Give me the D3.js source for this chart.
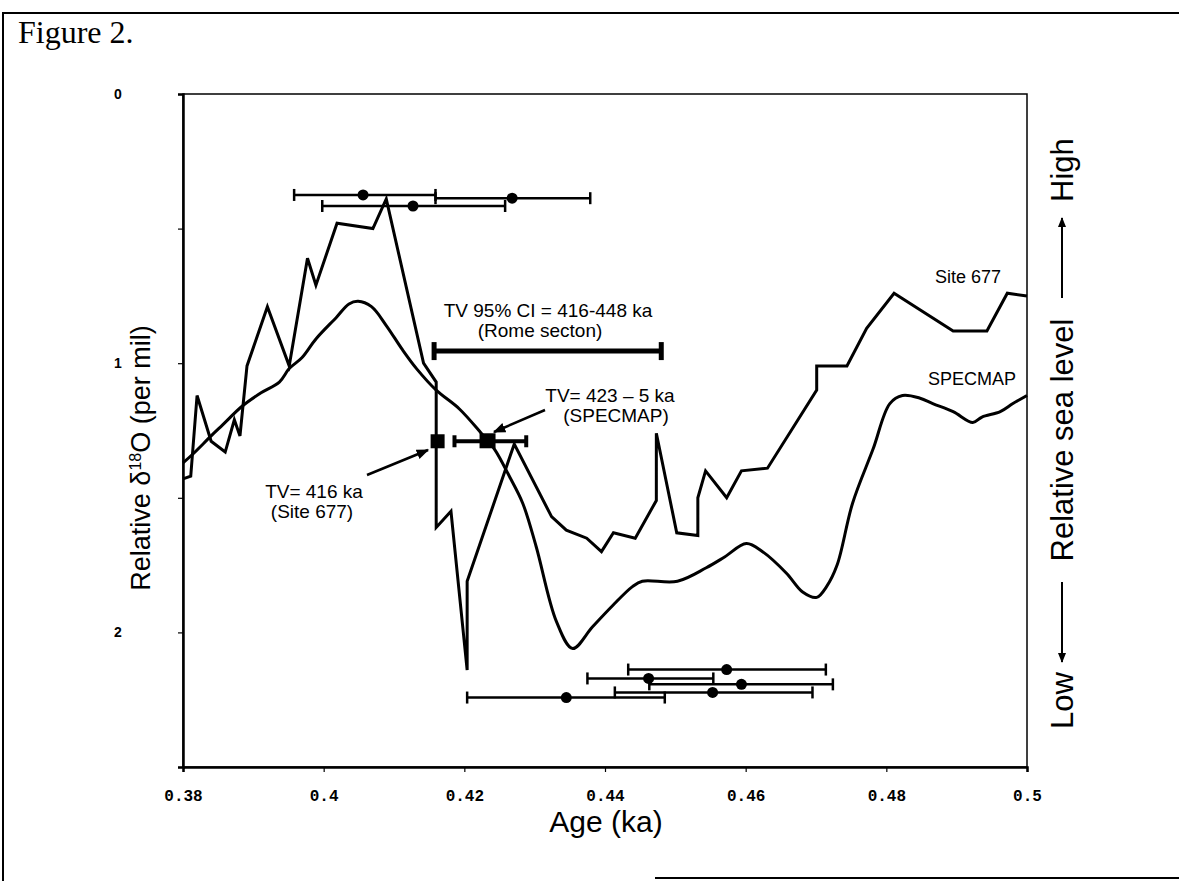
<!DOCTYPE html>
<html><head><meta charset="utf-8">
<script src="https://cdn.jsdelivr.net/npm/d3@7"></script>
<style>body{margin:0;background:#fff} svg{display:block}</style>
</head><body>
<svg id="chart" width="1179" height="881"></svg>
<script>
// ---------- data ----------
const xTicks = [0.38, 0.40, 0.42, 0.44, 0.46, 0.48, 0.50];
const xTickLabels = ["0.38", "0.4", "0.42", "0.44", "0.46", "0.48", "0.5"];
const yTicks = [0, 0.5, 1, 1.5, 2, 2.5];
const yTickLabels = ["0", "", "1", "", "2", ""];

const site677Age = [0.3800,0.3811,0.3820,0.3840,0.3860,0.3873,0.3881,0.3891,0.3920,0.3951,0.3977,0.3989,0.4019,0.4070,0.4089,0.4142,0.4160,0.4160,0.4181,0.4204,0.4204,0.4271,0.4324,0.4345,0.4374,0.4395,0.4412,0.4443,0.4473,0.4473,0.4502,0.4532,0.4532,0.4543,0.4573,0.4594,0.4631,0.4701,0.4701,0.4744,0.4772,0.4811,0.4895,0.4943,0.4972,0.5000];
const site677Val = [1.43,1.42,1.12,1.29,1.33,1.21,1.27,1.01,0.79,1.01,0.61,0.71,0.48,0.50,0.39,1.00,1.07,1.61,1.55,2.14,1.81,1.30,1.57,1.62,1.65,1.70,1.63,1.65,1.51,1.26,1.63,1.64,1.50,1.40,1.50,1.40,1.39,1.10,1.01,1.01,0.87,0.74,0.88,0.88,0.74,0.75];

const specmapAge = [0.3800,0.3813,0.3840,0.3856,0.3884,0.3911,0.3937,0.3951,0.3969,0.3989,0.4018,0.4036,0.4049,0.4068,0.4089,0.4112,0.4132,0.4160,0.4193,0.4224,0.4243,0.4264,0.4283,0.4302,0.4331,0.4354,0.4382,0.4411,0.4439,0.4453,0.4503,0.4544,0.4570,0.4601,0.4624,0.4658,0.4681,0.4701,0.4715,0.4730,0.4752,0.4781,0.4805,0.4823,0.4848,0.4866,0.4895,0.4923,0.4936,0.4962,0.4980,0.5000];
const specmapVal = [1.37,1.34,1.27,1.23,1.16,1.11,1.07,1.02,0.98,0.91,0.83,0.78,0.77,0.79,0.86,0.95,1.02,1.10,1.17,1.26,1.32,1.42,1.52,1.68,1.96,2.06,1.98,1.90,1.83,1.81,1.81,1.76,1.72,1.67,1.70,1.78,1.85,1.87,1.83,1.75,1.52,1.32,1.15,1.12,1.13,1.15,1.18,1.22,1.20,1.18,1.15,1.12];

// dated samples (age, lower, upper, plotted level)
const topAge = [0.4056, 0.4127, 0.4268];
const topLo  = [0.3958, 0.3998, 0.4159];
const topHi  = [0.4159, 0.4258, 0.4379];
const topVal = [0.375, 0.416, 0.387];

const botAge = [0.4573, 0.4462, 0.4594, 0.4553, 0.4345];
const botLo  = [0.4433, 0.4375, 0.4463, 0.4414, 0.4204];
const botHi  = [0.4714, 0.4554, 0.4724, 0.4695, 0.4485];
const botVal = [2.138, 2.171, 2.193, 2.223, 2.242];

// termination values
const tvSiteAge = 0.4162, tvSiteVal = 1.29;
const tvSpecAge = 0.4233, tvSpecLo = 0.4186, tvSpecHi = 0.4288, tvSpecVal = 1.29;
const ciLo = 0.4157, ciHi = 0.4480, ciVal = 0.955;

// ---------- layout ----------
const svg = d3.select("#chart");
const L = 183, R = 1027, T = 94, B = 767;
const x = d3.scaleLinear().domain([0.38, 0.50]).range([L, R]);
const y = d3.scaleLinear().domain([0, 2.5]).range([T, B]);
const sans = "'Liberation Sans', Arial, Helvetica, sans-serif";

// outer frame of the figure
svg.append("line").attr("x1",2).attr("y1",13).attr("x2",1179).attr("y2",13).attr("stroke","#000").attr("stroke-width",2);
svg.append("line").attr("x1",3).attr("y1",12).attr("x2",3).attr("y2",881).attr("stroke","#000").attr("stroke-width",2);
svg.append("line").attr("x1",655).attr("y1",878).attr("x2",1179).attr("y2",878).attr("stroke","#000").attr("stroke-width",2);

svg.append("text").attr("x",18).attr("y",43).text("Figure 2.")
  .attr("font-family","'Liberation Serif','Times New Roman',serif").attr("font-size",32).attr("fill","#000");

const defs = svg.append("defs");
defs.append("marker").attr("id","ah").attr("viewBox","0 0 10 10").attr("refX",9).attr("refY",5)
  .attr("markerWidth",5).attr("markerHeight",5).attr("orient","auto-start-reverse")
  .append("path").attr("d","M0,1 L10,5 L0,9 z").attr("fill","#000");

// plot box
svg.append("rect").attr("x",L).attr("y",T).attr("width",R-L).attr("height",B-T)
  .attr("fill","none").attr("stroke","#000").attr("stroke-width",1.5);

// axes
const xAxis = d3.axisBottom(x).tickValues(xTicks).tickFormat((d,i)=>xTickLabels[i]).tickSizeOuter(0).tickSize(5).tickPadding(18);
const gx = svg.append("g").attr("transform",`translate(0,${B})`).call(xAxis);
gx.select(".domain").attr("stroke-width",2.5);
gx.selectAll(".tick line").attr("stroke-width",1.2);
gx.selectAll("text").attr("font-family","'Liberation Mono','DejaVu Sans Mono',monospace").attr("font-weight","bold").attr("font-size",16);

const yAxis = d3.axisLeft(y).tickValues(yTicks).tickFormat((d,i)=>yTickLabels[i]).tickSizeOuter(0).tickSize(5).tickPadding(58);
const gy = svg.append("g").attr("transform",`translate(${L},0)`).call(yAxis);
gy.select(".domain").attr("stroke-width",2.5);
gy.selectAll(".tick line").attr("stroke-width",1.2);
gy.selectAll("text").attr("font-family",sans).attr("font-weight","bold").attr("font-size",14).attr("text-anchor","middle").attr("dx","-2");

// axis titles
svg.append("text").attr("x",606).attr("y",832).attr("text-anchor","middle")
  .attr("font-family",sans).attr("font-size",30).text("Age (ka)");

const yl = svg.append("text").attr("transform",`translate(150,458) rotate(-90)`).attr("text-anchor","middle")
  .attr("font-family",sans).attr("font-size",27);
yl.append("tspan").text("Relative  \u03B4");
yl.append("tspan").attr("font-size",16).attr("dy",-9).text("18");
yl.append("tspan").attr("dy",9).text("O (per mil)");

// right side label
const rg = svg.append("g").attr("transform",`translate(1062,440) rotate(-90)`);
rg.append("text").attr("text-anchor","middle").attr("y",0).attr("dy","0.35em")
  .attr("font-family",sans).attr("font-size",31).text("Relative sea level");
rg.append("line").attr("x1",142).attr("x2",222).attr("y1",0).attr("y2",0)
  .attr("stroke","#000").attr("stroke-width",2).attr("marker-end","url(#ah)");
rg.append("line").attr("x1",-142).attr("x2",-222).attr("y1",0).attr("y2",0)
  .attr("stroke","#000").attr("stroke-width",2).attr("marker-end","url(#ah)");
rg.append("text").attr("x",238).attr("dy","0.35em").attr("text-anchor","start")
  .attr("font-family",sans).attr("font-size",31).text("High");
rg.append("text").attr("x",-232).attr("dy","0.35em").attr("text-anchor","end")
  .attr("font-family",sans).attr("font-size",31).text("Low");

// ---------- series ----------
const site677 = site677Age.map((a,i)=>[a, site677Val[i]]);
const specmap = specmapAge.map((a,i)=>[a, specmapVal[i]]);
svg.append("path").datum(site677)
  .attr("d", d3.line().x(d=>x(d[0])).y(d=>y(d[1])))
  .attr("fill","none").attr("stroke","#000").attr("stroke-width",3).attr("stroke-linejoin","miter");
svg.append("path").datum(specmap)
  .attr("d", d3.line().curve(d3.curveCatmullRom).x(d=>x(d[0])).y(d=>y(d[1])))
  .attr("fill","none").attr("stroke","#000").attr("stroke-width",3);

// error bars helper
function errBar(lo, hi, v, cap, w){
  const g = svg.append("g").attr("stroke","#000").attr("stroke-width",w);
  g.append("line").attr("x1",x(lo)).attr("x2",x(hi)).attr("y1",y(v)).attr("y2",y(v));
  g.append("line").attr("x1",x(lo)).attr("x2",x(lo)).attr("y1",y(v)-cap).attr("y2",y(v)+cap);
  g.append("line").attr("x1",x(hi)).attr("x2",x(hi)).attr("y1",y(v)-cap).attr("y2",y(v)+cap);
}
topAge.forEach((a,i)=>{ errBar(topLo[i], topHi[i], topVal[i], 6, 2.5); });
botAge.forEach((a,i)=>{ errBar(botLo[i], botHi[i], botVal[i], 6, 2.5); });
svg.selectAll("circle.top").data(topAge).join("circle").attr("class","top")
  .attr("cx",d=>x(d)).attr("cy",(d,i)=>y(topVal[i])).attr("r",5.5).attr("fill","#000");
svg.selectAll("circle.bot").data(botAge).join("circle").attr("class","bot")
  .attr("cx",d=>x(d)).attr("cy",(d,i)=>y(botVal[i])).attr("r",5.5).attr("fill","#000");

// CI bar
errBar(ciLo, ciHi, ciVal, 9, 5);
// SPECMAP TV bar
errBar(tvSpecLo, tvSpecHi, tvSpecVal, 6, 4);
svg.append("rect").attr("x",x(tvSpecAge)-8).attr("y",y(tvSpecVal)-8).attr("width",16).attr("height",15).attr("fill","#000");
svg.append("rect").attr("x",x(tvSiteAge)-7).attr("y",y(tvSiteVal)-7).attr("width",14).attr("height",14).attr("fill","#000");

// ---------- annotations ----------
function label(px, py, lines, size){
  const t = svg.append("text").attr("font-family",sans).attr("font-size",size).attr("text-anchor","middle");
  lines.forEach((s,i)=> t.append("tspan").attr("x",px[i]).attr("y",py + i*size*1.05).text(s));
}
label([548,540], 317, ["TV 95% CI = 416-448 ka", "(Rome secton)"], 19);
label([610,616], 402, ["TV= 423 \u2013 5 ka", "(SPECMAP)"], 19);
label([314,312], 498, ["TV= 416 ka", "(Site 677)"], 19);
svg.append("text").attr("x",968).attr("y",283).attr("text-anchor","middle").attr("font-family",sans).attr("font-size",18).text("Site 677");
svg.append("text").attr("x",972).attr("y",385).attr("text-anchor","middle").attr("font-family",sans).attr("font-size",18).text("SPECMAP");

svg.append("line").attr("x1",545).attr("y1",410).attr("x2",494).attr("y2",432)
  .attr("stroke","#000").attr("stroke-width",2.5).attr("marker-end","url(#ah)");
svg.append("line").attr("x1",367).attr("y1",475).attr("x2",428).attr("y2",450)
  .attr("stroke","#000").attr("stroke-width",2.5).attr("marker-end","url(#ah)");
</script>
</body></html>
